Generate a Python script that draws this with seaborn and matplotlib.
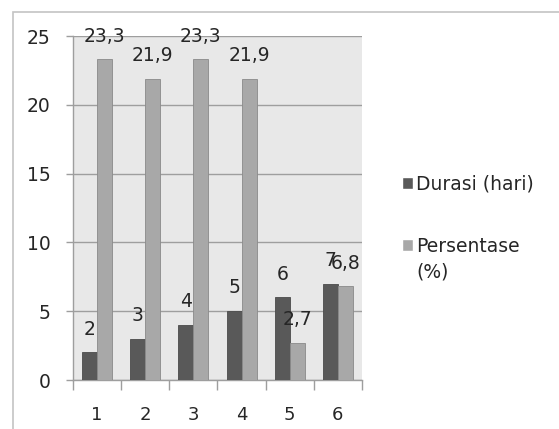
import matplotlib
matplotlib.use("Agg")
import matplotlib.pyplot as plt
import seaborn as sns
import pandas as pd
from matplotlib.patches import Rectangle

categories = ["1", "2", "3", "4", "5", "6"]
durasi = [2, 3, 4, 5, 6, 7]
persentase = [23.3, 21.9, 23.3, 21.9, 2.7, 6.8]
series_names = ["Durasi (hari)", "Persentase (%)"]
y_ticks = [0, 5, 10, 15, 20, 25]

df = pd.DataFrame({
    "kategori": categories * 2,
    "nilai": durasi + persentase,
    "seri": [series_names[0]] * len(categories) + [series_names[1]] * len(categories),
})

sns.set_theme(style="white")
plt.rcParams["font.family"] = ["DejaVu Sans"]

text_color = "#262626"
palette = {series_names[0]: "#595959", series_names[1]: "#a8a8a8"}

fig = plt.figure(figsize=(5.59, 4.29), dpi=100)
fig.patch.set_facecolor("white")
ax = fig.add_axes([73 / 559, 1 - 380 / 429, (362 - 73) / 559, (380 - 36) / 429])
ax.set_facecolor("#e8e8e8")

sns.barplot(data=df, x="kategori", y="nilai", hue="seri", order=categories,
            hue_order=series_names, palette=palette, width=0.62,
            saturation=1, ax=ax, legend=True, zorder=3)

for cont in ax.containers:
    for bar in cont:
        bar.set_edgecolor("#8a8a8a" if bar.get_facecolor()[0] > 0.5 else "#4a4a4a")
        bar.set_linewidth(0.6)

# value labels above each bar
for cont in ax.containers:
    for bar in cont:
        h = bar.get_height()
        txt = f"{h:g}".replace(".", ",")
        ax.annotate(txt, (bar.get_x() + bar.get_width() / 2, h),
                    xytext=(0, 10), textcoords="offset points",
                    ha="center", va="bottom", fontsize=13.5, color=text_color,
                    zorder=5, annotation_clip=False)

ax.set_ylim(0, 25)
ax.set_xlim(-0.5, len(categories) - 0.5)
ax.set_yticks(y_ticks)
ax.yaxis.grid(True, color="#9e9e9e", linewidth=1.0, zorder=1)
ax.xaxis.grid(False)
ax.set_axisbelow(True)
ax.set_xlabel("")
ax.set_ylabel("")

ax.tick_params(axis="y", length=5, width=1, color="#9e9e9e", pad=11,
               labelsize=13.5, labelcolor=text_color, left=True)
ax.set_xticks(range(len(categories)))
ax.set_xticklabels(categories)
ax.set_xticks([i - 0.5 for i in range(len(categories) + 1)], minor=True)
ax.tick_params(axis="x", which="major", length=0, pad=19, labelsize=13,
               labelcolor=text_color)
ax.tick_params(axis="x", which="minor", length=7, width=1, color="#9e9e9e",
               bottom=True)

for side in ["top", "right"]:
    ax.spines[side].set_visible(False)
for side in ["left", "bottom"]:
    ax.spines[side].set_color("#9e9e9e")
    ax.spines[side].set_linewidth(1)

handles, _ = ax.get_legend_handles_labels()
ax.legend(handles, ["Durasi (hari)", "Persentase"], loc="upper left",
          bbox_to_anchor=(394 / 559, 1 - 167 / 429), bbox_transform=fig.transFigure,
          frameon=False, fontsize=13.5, labelcolor=text_color,
          handlelength=0.6, handleheight=0.6, handletextpad=0.2,
          labelspacing=2.3, borderaxespad=0)
# second line of the percentage label
fig.text(416 / 559, 1 - 272 / 429, "(%)", ha="left", va="center",
         fontsize=13.5, color=text_color)

# outer chart frame
fig.patches.append(Rectangle((13 / 559, -0.01), 1.0, 1 - 12 / 429 + 0.01,
                             transform=fig.transFigure, fill=False,
                             edgecolor="#c4c4c4", linewidth=1.2))

fig.savefig("out.png", dpi=100)
